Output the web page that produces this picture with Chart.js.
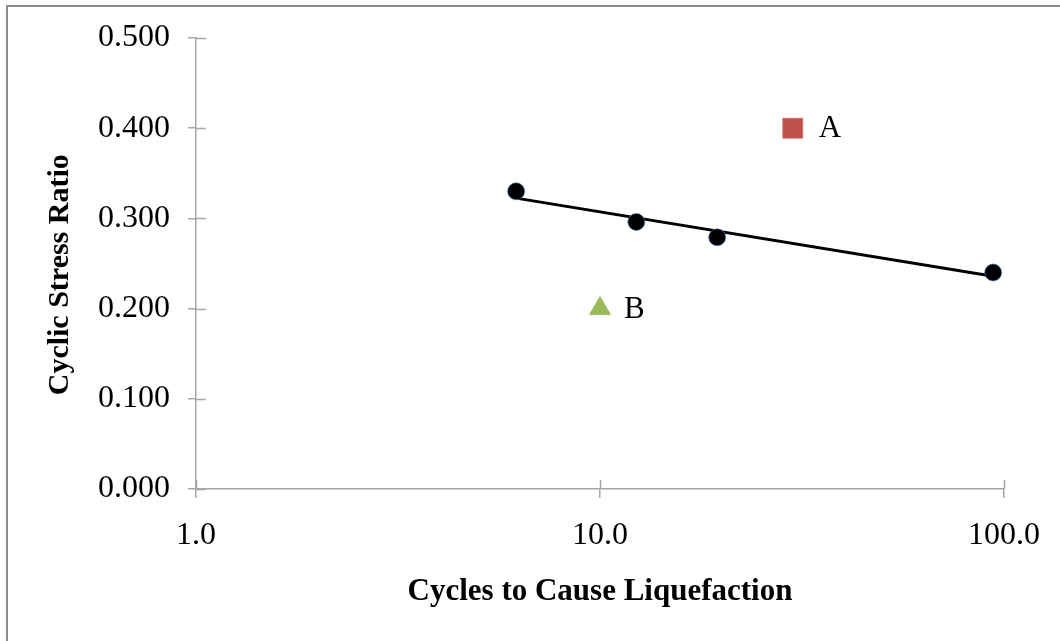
<!DOCTYPE html>
<html>
<head>
<meta charset="utf-8">
<script src="https://cdn.jsdelivr.net/npm/chart.js@4/dist/chart.umd.min.js"></script>
<style>
  html, body { margin: 0; padding: 0; background: #fff; }
  #wrap { position: relative; width: 1060px; height: 641px; }
</style>
</head>
<body>
<div id="wrap"><canvas id="chart" width="1060" height="641"></canvas></div>
<script>
// test data
var cyclesN = [6.2, 12.3, 19.5, 94];
var csrN = [0.330, 0.296, 0.279, 0.240];

var pointA = { x: 30, y: 0.400 };
var pointB = { x: 10, y: 0.200 };

var xTicks = [1, 10, 100];
var yTicks = [0, 0.1, 0.2, 0.3, 0.4, 0.5];

// logarithmic trend line (least squares on ln N), same as the spreadsheet trendline
function logTrend(xs, ys) {
    var n = xs.length, mx = 0, my = 0;
    for (var i = 0; i < n; i++) { mx += Math.log(xs[i]); my += ys[i]; }
    mx /= n; my /= n;
    var sxy = 0, sxx = 0;
    for (var i = 0; i < n; i++) {
        var dx = Math.log(xs[i]) - mx;
        sxy += dx * (ys[i] - my);
        sxx += dx * dx;
    }
    var b = sxy / sxx, a = my - b * mx;
    var lo = xs[0], hi = xs[n - 1];
    return [{ x: lo, y: a + b * Math.log(lo) }, { x: hi, y: a + b * Math.log(hi) }];
}

var serif = "'Liberation Serif', 'Times New Roman', serif";

// ticks that cross the axis line, plus the point labels and frame
var extras = {
    id: 'extras',
    afterDraw: function (chart) {
        var c = chart.ctx, xs = chart.scales.x, ys = chart.scales.y;
        c.save();
        c.strokeStyle = '#a6a6a6';
        c.lineWidth = 1.5;
        ys.ticks.forEach(function (t) {
            var py = Math.round(ys.getPixelForValue(t.value)) + 0.5;
            c.beginPath(); c.moveTo(xs.left, py); c.lineTo(xs.left + 10, py); c.stroke();
        });
        xs.ticks.forEach(function (t) {
            var px = Math.round(xs.getPixelForValue(t.value)) + 0.5;
            c.beginPath(); c.moveTo(px, ys.bottom); c.lineTo(px, ys.bottom - 9); c.stroke();
        });
        // labels next to A and B
        c.fillStyle = '#000';
        c.font = '31px ' + serif;
        c.textBaseline = 'middle';
        chart.data.datasets.forEach(function (ds, i) {
            if (!ds.tag) return;
            var el = chart.getDatasetMeta(i).data[0];
            c.fillText(ds.tag, el.x + ds.pointRadius + 12, el.y + 1);
        });
        // outer frame
        c.strokeStyle = '#8c8c8c';
        c.lineWidth = 2;
        c.beginPath(); c.moveTo(7, 641); c.lineTo(7, 6); c.lineTo(1060, 6); c.stroke();
        c.restore();
    }
};

new Chart(document.getElementById('chart'), {
    type: 'scatter',
    data: {
        datasets: [
            {
                label: 'Trend',
                data: logTrend(cyclesN, csrN),
                showLine: true,
                borderColor: '#000',
                borderWidth: 3,
                pointRadius: 0,
                order: 2
            },
            {
                label: 'Tests',
                data: cyclesN.map(function (v, i) { return { x: v, y: csrN[i] }; }),
                backgroundColor: '#000',
                borderColor: 'rgba(74,126,187,0.7)',
                borderWidth: 1,
                pointRadius: 8.5,
                order: 1
            },
            {
                label: 'A',
                tag: 'A',
                data: [pointA],
                pointStyle: 'rect',
                backgroundColor: '#c0504d',
                borderColor: '#d06a67',
                borderWidth: 1,
                pointRadius: 14,
                order: 0
            },
            {
                label: 'B',
                tag: 'B',
                data: [pointB],
                pointStyle: 'triangle',
                backgroundColor: '#9bbb59',
                borderColor: '#9bbb59',
                borderWidth: 1,
                pointRadius: 12,
                order: 0
            }
        ]
    },
    options: {
        responsive: false,
        animation: false,
        layout: { padding: { top: 38, right: 56, left: 0, bottom: 0 } },
        plugins: { legend: { display: false }, tooltip: { enabled: false } },
        scales: {
            x: {
                type: 'logarithmic',
                min: 1,
                max: 100,
                afterBuildTicks: function (s) { s.ticks = xTicks.map(function (v) { return { value: v }; }); },
                afterFit: function (s) { s.height = 152; },
                ticks: {
                    color: '#000',
                    font: { family: serif, size: 32 },
                    padding: 18,
                    maxRotation: 0,
                    callback: function (v) { return Number(v).toFixed(1); }
                },
                grid: { display: true, drawOnChartArea: false, color: '#a6a6a6', lineWidth: 1.5, tickLength: 9 },
                border: { color: '#a6a6a6', width: 1.5 },
                title: {
                    display: true,
                    text: 'Cycles to Cause Liquefaction',
                    color: '#000',
                    font: { family: serif, size: 31, weight: 'bold' },
                    padding: { bottom: 30 }
                }
            },
            y: {
                min: 0,
                max: 0.5,
                afterBuildTicks: function (s) { s.ticks = yTicks.map(function (v) { return { value: v }; }); },
                afterFit: function (s) { s.width = 196; },
                ticks: {
                    color: '#000',
                    font: { family: serif, size: 32 },
                    padding: 18,
                    callback: function (v) { return Number(v).toFixed(3); }
                },
                grid: { display: true, drawOnChartArea: false, color: '#a6a6a6', lineWidth: 1.5, tickLength: 8 },
                border: { color: '#a6a6a6', width: 1.5 },
                title: {
                    display: true,
                    text: 'Cyclic Stress Ratio   ',
                    color: '#000',
                    font: { family: serif, size: 30, weight: 'bold' },
                    padding: { top: 42 }
                }
            }
        }
    },
    plugins: [extras]
});
</script>
</body>
</html>
